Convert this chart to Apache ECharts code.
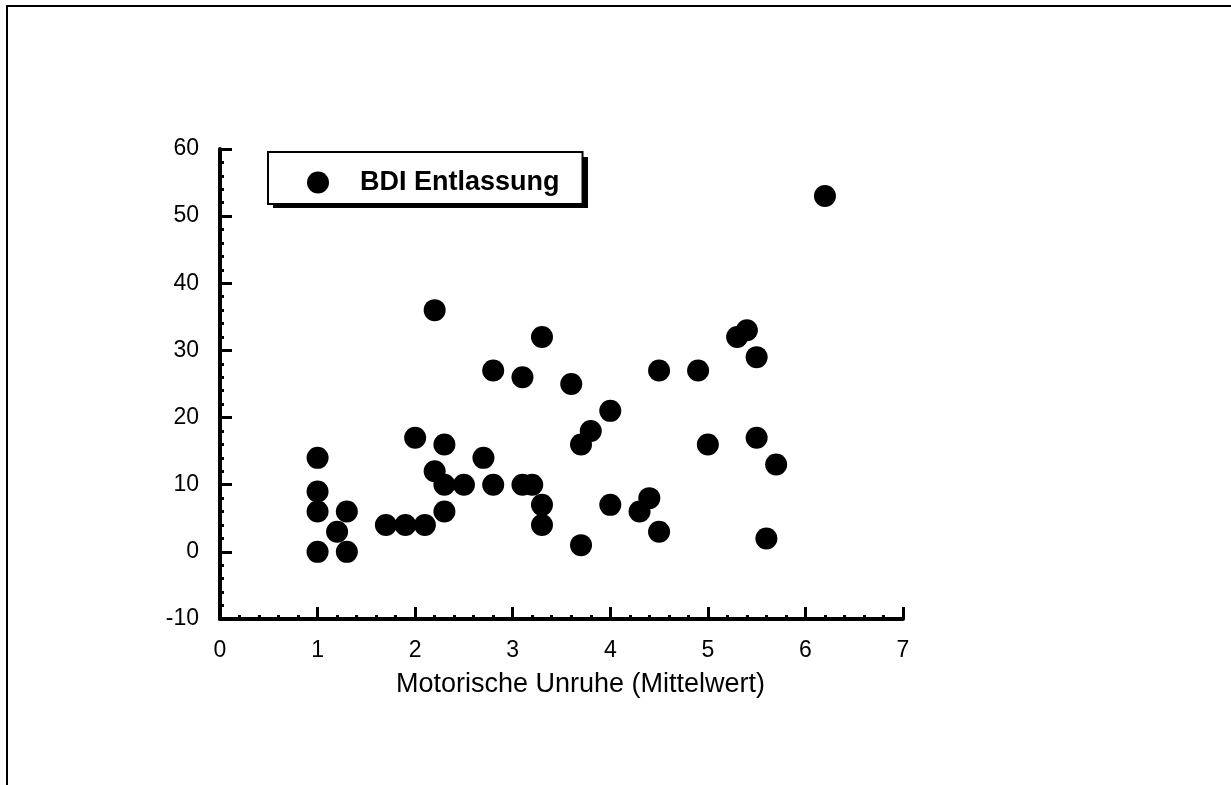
<!DOCTYPE html>
<html>
<head>
<meta charset="utf-8">
<style>
  html, body { margin: 0; padding: 0; background: #fff; }
  #chart { width: 1231px; height: 785px; }
</style>
<script src="https://cdn.jsdelivr.net/npm/echarts@6/dist/echarts.min.js"></script>
</head>
<body>
<div id="chart"></div>
<script>
// ---- Data ----
const seriesName = 'BDI Entlassung';
const xAxisTitle = 'Motorische Unruhe (Mittelwert)';
const xTicks = [0, 1, 2, 3, 4, 5, 6, 7];
const yTicks = [-10, 0, 10, 20, 30, 40, 50, 60];
const xValues = [1, 1, 1, 1, 1.2, 1.3, 1.3, 1.7, 1.9, 2.1, 2.0, 2.2, 2.3, 2.3, 2.3, 2.5, 2.7, 2.8, 2.8, 2.2, 3.1, 3.2, 3.3, 3.3, 3.1, 3.3, 3.6, 3.7, 3.8, 4.0, 3.7, 4.0, 4.3, 4.4, 4.5, 4.5, 4.9, 5.0, 5.3, 5.4, 5.5, 5.5, 5.6, 5.7, 6.2];
const yValues = [14, 9, 6, 0, 3, 6, 0, 4, 4, 4, 17, 12, 16, 10, 6, 10, 14, 10, 27, 36, 10, 10, 7, 4, 26, 32, 25, 16, 18, 21, 1, 7, 6, 8, 3, 27, 27, 16, 32, 33, 29, 17, 2, 13, 53];

const points = xValues.map((x, i) => [x, yValues[i]]);
const FONT = "'Liberation Sans', Arial, Helvetica, sans-serif";

const chart = echarts.init(document.getElementById('chart'), null, { renderer: 'canvas' });

const axisCommon = {
  axisLine: { show: true, onZero: false, lineStyle: { color: '#000', width: 4 } },
  axisTick: { show: true, inside: true, length: 12, lineStyle: { color: '#000', width: 3 } },
  minorTick: { show: true, splitNumber: 5, length: 4, lineStyle: { color: '#000', width: 3 } },
  splitLine: { show: false },
  minorSplitLine: { show: false }
};

const LEG_LEFT = 268, LEG_TOP = 152;

chart.setOption({
  animation: false,
  backgroundColor: '#fff',
  textStyle: { fontFamily: FONT },
  grid: { left: 220, right: 328, top: 149, bottom: 166, containLabel: false },
  legend: {
    show: true,
    left: LEG_LEFT,
    top: LEG_TOP,
    orient: 'horizontal',
    data: [seriesName],
    icon: 'circle',
    itemWidth: 22,
    itemHeight: 22,
    padding: [17, 23, 8, 39],
    backgroundColor: '#fff',
    borderColor: '#000',
    borderWidth: 2,
    borderRadius: 0,
    textStyle: {
      fontFamily: FONT,
      fontSize: 27,
      fontWeight: 'bold',
      color: '#000',
      padding: [0, 0, 0, 26]
    },
    selectedMode: false,
    z: 10
  },
  xAxis: Object.assign({
    type: 'value',
    min: xTicks[0],
    max: xTicks[xTicks.length - 1],
    interval: 1,
    name: xAxisTitle,
    nameLocation: 'middle',
    nameGap: 52,
    nameTextStyle: { fontFamily: FONT, fontSize: 27, color: '#000', padding: [0, 0, 0, 38] },
    axisLabel: { show: true, margin: 20, fontFamily: FONT, fontSize: 23, color: '#000' }
  }, axisCommon),
  yAxis: Object.assign({
    type: 'value',
    min: yTicks[0],
    max: yTicks[yTicks.length - 1],
    interval: 10,
    axisLabel: { show: true, margin: 21, fontFamily: FONT, fontSize: 23, color: '#000' }
  }, axisCommon),
  graphic: [
    { type: 'line', shape: { x1: 6, y1: 6, x2: 1231, y2: 6 }, style: { stroke: '#000', lineWidth: 2 }, silent: true },
    { type: 'line', shape: { x1: 7, y1: 5, x2: 7, y2: 785 }, style: { stroke: '#000', lineWidth: 2 }, silent: true },
    // drop shadow of the legend box
    { type: 'rect', z: 1, shape: { x: LEG_LEFT + 5, y: LEG_TOP + 5, width: 315, height: 51 }, style: { fill: '#000' }, silent: true }
  ],
  series: [{
    name: seriesName,
    type: 'scatter',
    symbol: 'circle',
    symbolSize: 22,
    itemStyle: { color: '#000', opacity: 1 },
    data: points
  }]
});
</script>
</body>
</html>
